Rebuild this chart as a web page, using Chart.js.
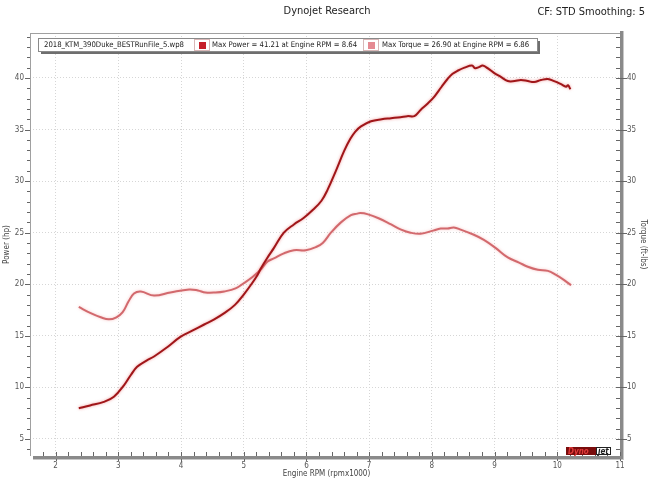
<!DOCTYPE html>
<html><head><meta charset="utf-8">
<script src="https://cdn.jsdelivr.net/npm/chart.js@4.4.0/dist/chart.umd.min.js"></script>
<style>html,body{margin:0;padding:0;background:#fff;}#wrap{width:655px;height:491px;}</style>
</head><body><div id="wrap"><canvas id="c" width="655" height="491"></canvas></div>
<script>
const chartTitle = 'Dynojet Research';
const chartNote = 'CF: STD Smoothing: 5';
const runFile = '2018_KTM_390Duke_BESTRunFile_5.wp8';
const powerLabel = 'Max Power = 41.21 at Engine RPM = 8.64';
const torqueLabel = 'Max Torque = 26.90 at Engine RPM = 6.86';
const xTitle = 'Engine RPM (rpmx1000)';
const yTitle = 'Power (hp)';
const y1Title = 'Torque (ft-lbs)';

const powerRpm = [2.37,2.55,2.77,2.93,3.09,3.20,3.30,3.45,3.57,3.78,3.99,4.18,4.37,4.53,4.69,4.86,5.0,5.11,5.22,5.27,5.38,5.48,5.64,5.80,5.95,6.10,6.24,6.34,6.47,6.6,6.7,6.78,6.87,7.03,7.2,7.35,7.5,7.61,7.72,7.82,7.93,8.04,8.15,8.25,8.33,8.41,8.52,8.64,8.69,8.75,8.81,8.9,8.99,9.1,9.21,9.32,9.42,9.53,9.63,9.74,9.85,9.95,10.06,10.14,10.17,10.21];
const powerHp = [7.98,8.25,8.6,9.1,10.2,11.2,12.0,12.6,13.0,13.9,14.9,15.5,16.1,16.6,17.2,18.0,19.0,19.9,20.9,21.5,22.6,23.5,25.0,25.8,26.4,27.2,28.1,29.2,31.0,32.9,34.1,34.8,35.3,35.8,36.0,36.1,36.2,36.3,36.3,36.9,37.5,38.2,39.1,39.9,40.4,40.7,41.0,41.21,40.95,41.05,41.2,40.9,40.5,40.1,39.7,39.7,39.8,39.7,39.6,39.8,39.9,39.7,39.4,39.15,39.3,38.9];

const torqueRpm = [2.37,2.56,2.72,2.85,2.97,3.07,3.16,3.25,3.36,3.57,3.83,4.13,4.27,4.39,4.55,4.69,4.87,5.0,5.14,5.27,5.38,5.48,5.64,5.8,5.99,6.15,6.26,6.39,6.55,6.71,6.81,6.86,6.97,7.15,7.35,7.51,7.66,7.82,8.02,8.14,8.25,8.35,8.46,8.67,8.83,9.02,9.21,9.39,9.53,9.69,9.85,9.98,10.11,10.22];
const torqueFtlb = [17.8,17.2,16.8,16.6,16.8,17.3,18.3,19.1,19.3,18.9,19.2,19.5,19.4,19.2,19.2,19.3,19.6,20.1,20.7,21.4,22.2,22.5,23.0,23.3,23.3,23.6,24.0,25.0,26.0,26.7,26.85,26.9,26.8,26.4,25.8,25.3,25.0,24.9,25.2,25.4,25.4,25.5,25.3,24.8,24.3,23.5,22.6,22.1,21.7,21.4,21.3,20.9,20.4,19.9];

const xRange = [1.64, 11];
const yRange = [3.35, 44.36];

const FONT = "'DejaVu Sans Condensed','DejaVu Sans',sans-serif";

function pts(xs, ys){ return xs.map((x,i)=>({x:x, y:ys[i]})); }

function isMajor(v, step){ return Math.abs(v/step - Math.round(v/step)) < 1e-6; }

const decor = {
  id: 'decor',
  beforeDraw(chart){
    const ctx = chart.ctx;
    ctx.save(); ctx.fillStyle = '#fff'; ctx.fillRect(0,0,chart.width,chart.height); ctx.restore();
  },
  beforeDatasetDraw(chart, args){
    const ctx = chart.ctx;
    ctx.save();
    ctx.shadowColor = args.index === 0 ? 'rgba(225,70,70,0.55)' : 'rgba(240,150,150,0.55)';
    ctx.shadowBlur = 3;
  },
  afterDatasetDraw(chart){ chart.ctx.restore(); },
  afterDraw(chart){
    const {ctx, chartArea:a, scales} = chart;
    ctx.save();
    // titles
    ctx.fillStyle = '#222';
    ctx.font = "11px " + FONT;
    ctx.textBaseline = 'middle';
    ctx.textAlign = 'center';
    ctx.fillText(chartTitle, 327, 11);
    ctx.textAlign = 'right';
    ctx.fillText(chartNote, 645, 12);

    // frame
    ctx.strokeStyle = '#a0a0a0'; ctx.lineWidth = 1;
    ctx.beginPath();
    ctx.moveTo(a.left-3, a.top+0.5); ctx.lineTo(a.right, a.top+0.5);
    ctx.moveTo(a.left-2.5, a.top); ctx.lineTo(a.left-2.5, a.bottom);
    ctx.stroke();
    ctx.fillStyle = '#8a8a8a';
    ctx.fillRect(a.left, a.bottom, a.right-a.left+3, 3);
    ctx.fillRect(a.right, a.top-2, 3, a.bottom-a.top+5);
    ctx.fillStyle = '#c8c8c8';
    ctx.fillRect(a.left, a.bottom+3, a.right-a.left+4, 1);
    ctx.fillRect(a.right+3, a.top-2, 1, a.bottom-a.top+6);

    // ticks
    ctx.strokeStyle = '#666'; ctx.lineWidth = 1;
    ctx.beginPath();
    const ys = scales.y;
    for (let v = Math.ceil(yRange[0]); v <= yRange[1]; v++){
      const py = Math.round(ys.getPixelForValue(v)) + 0.5;
      const maj = v % 5 === 0;
      ctx.moveTo(a.left - 3 - (maj?5:3), py); ctx.lineTo(a.left - 3, py);
      ctx.moveTo(a.right - 4, py); ctx.lineTo(a.right + (maj?7:0), py);
    }
    const xs = scales.x;
    for (let k = Math.ceil(xRange[0]/0.2); k*0.2 <= xRange[1]+1e-9; k++){
      const v = k*0.2;
      const px = Math.round(xs.getPixelForValue(v)) + 0.5;
      const maj = isMajor(v,1);
      ctx.moveTo(px, a.bottom); ctx.lineTo(px, a.bottom - 4);
      if (maj){ ctx.moveTo(px, a.bottom+3); ctx.lineTo(px, a.bottom+5); }
    }
    ctx.stroke();

    // legend box
    const bx = 38, by = 38, bw = 499, bh = 13;
    ctx.fillStyle = '#6e6e6e';
    ctx.fillRect(bx+3, by+3, bw, bh);
    ctx.fillStyle = '#fff';
    ctx.fillRect(bx, by, bw, bh);
    ctx.strokeStyle = '#8a8a8a';
    ctx.strokeRect(bx+0.5, by+0.5, bw, bh);
    ctx.font = "7.7px " + FONT;
    ctx.textAlign = 'left';
    ctx.fillStyle = '#222';
    ctx.fillText(runFile, 44, by + bh/2 + 1);
    // swatches
    const sw = (cx, col) => {
      ctx.strokeStyle = '#d8b8b8';
      ctx.strokeRect(cx-7.5, by+1.5, 15, bh-2);
      ctx.fillStyle = col;
      ctx.fillRect(cx-3, by+4, 7, 7);
    };
    sw(202, '#c51f2a');
    ctx.fillStyle = '#222';
    ctx.fillText(powerLabel, 212, by + bh/2 + 1);
    sw(371, '#e58a92');
    ctx.fillStyle = '#222';
    ctx.fillText(torqueLabel, 382, by + bh/2 + 1);

    // logo
    ctx.fillStyle = '#7a0c0c';
    ctx.fillRect(566, 447, 30, 8);
    ctx.font = "italic bold 8px " + FONT;
    ctx.fillStyle = '#e23a3a';
    ctx.fillText('Dyno', 568, 451.5);
    ctx.fillStyle = '#fff';
    ctx.fillRect(596, 447, 15, 8);
    ctx.strokeStyle = '#222';
    ctx.strokeRect(596.5, 447.5, 14, 7);
    ctx.fillStyle = '#222';
    ctx.fillText('jet', 598, 451.5);
    ctx.restore();
  }
};

new Chart(document.getElementById('c'), {
  type: 'line',
  data: {
    datasets: [
      { label: powerLabel, data: pts(powerRpm, powerHp), yAxisID: 'y',
        borderColor: '#a01619', borderWidth: 2, pointRadius: 0, tension: 0.4, fill: false },
      { label: torqueLabel, data: pts(torqueRpm, torqueFtlb), yAxisID: 'y1',
        borderColor: '#d2696d', borderWidth: 2, pointRadius: 0, tension: 0.4, fill: false }
    ]
  },
  options: {
    responsive: false, animation: false, devicePixelRatio: 1,
    layout: { padding: { top: 33, left: 0, right: 0, bottom: 0 } },
    plugins: { legend: { display: false }, tooltip: { enabled: false }, title: { display: false } },
    scales: {
      x: {
        type: 'linear', min: xRange[0], max: xRange[1],
        afterFit(s){ s.height = 35; },
        ticks: { stepSize: 1, includeBounds: false, padding: 5, color: '#555', font: { family: FONT, size: 8 },
          maxRotation: 0, autoSkip: false },
        grid: { color: '#d6d6d6', drawTicks: false, lineWidth: 1 },
        border: { display: false, dash: [1, 2] },
        title: { display: true, text: xTitle, color: '#444', font: { family: FONT, size: 8 }, padding: { top: 0, bottom: 12 } }
      },
      y: {
        type: 'linear', position: 'left', min: yRange[0], max: yRange[1],
        afterFit(s){ s.width = 33; },
        ticks: { stepSize: 5, includeBounds: false, padding: 9, color: '#555', font: { family: FONT, size: 8 } },
        grid: { color: '#d6d6d6', drawTicks: false },
        border: { display: false, dash: [1, 2] },
        title: { display: true, text: yTitle, color: '#444', font: { family: FONT, size: 8 }, padding: { top: 2, bottom: 0 } }
      },
      y1: {
        type: 'linear', position: 'right', min: yRange[0], max: yRange[1],
        afterFit(s){ s.width = 35; },
        ticks: { stepSize: 5, includeBounds: false, padding: 7, color: '#555', font: { family: FONT, size: 8 } },
        grid: { drawOnChartArea: false, drawTicks: false },
        border: { display: false },
        title: { display: true, text: y1Title, color: '#444', font: { family: FONT, size: 8 }, padding: { top: 7, bottom: 0 } }
      }
    }
  },
  plugins: [decor]
});
</script>
</body></html>
